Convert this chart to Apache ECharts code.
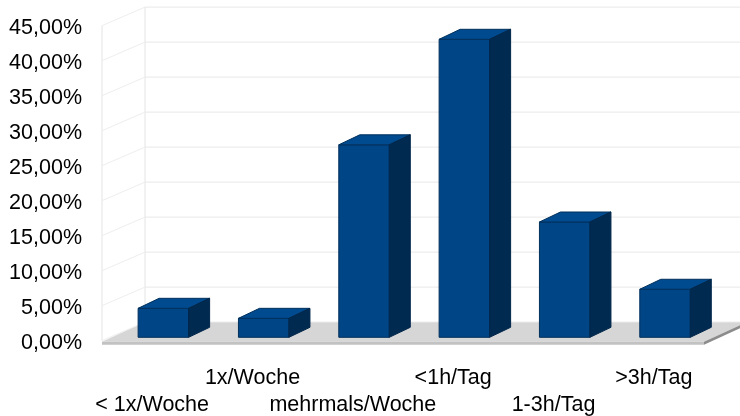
<!DOCTYPE html>
<html>
<head>
<meta charset="utf-8">
<script src="https://cdn.jsdelivr.net/npm/echarts@6/dist/echarts.min.js"></script>
<style>
  html, body { margin: 0; padding: 0; background: #fff; }
  #chart { width: 740px; height: 416px; }
</style>
</head>
<body>
<div id="chart"></div>
<script>
const categories = ['< 1x/Woche', '1x/Woche', 'mehrmals/Woche', '<1h/Tag', '1-3h/Tag', '>3h/Tag'];
const shares = [4.14, 2.71, 27.5, 42.57, 16.47, 6.86];
const gridTicks = [0, 5, 10, 15, 20, 25, 30, 35, 40, 45];

// fake 3D: how far the back wall sits from the front plane, in px
const DEPTH_X = 43;
const DEPTH_Y = 18.6;
const BAR_DX = 21;
const BAR_DY = 10;
const BAR_SHIFT_X = 11.2;
const BAR_SHIFT_Y = 3.4;
const BAR_WIDTH = 50.5;

const chart = echarts.init(document.getElementById('chart'), null, { renderer: 'canvas' });

function poly(points, fill, stroke) {
    return {
        type: 'polygon',
        shape: { points: points },
        style: { fill: fill, stroke: stroke || null, lineWidth: stroke ? 1 : 0 }
    };
}

function line(x1, y1, x2, y2, color) {
    return {
        type: 'line',
        shape: { x1: x1, y1: y1, x2: x2, y2: y2 },
        style: { stroke: color, lineWidth: 1 }
    };
}

// floor and wall lines, one item per tick, drawn behind the bars
function renderWalls(params, api) {
    const box = params.coordSys;
    const left = box.x, right = box.x + box.width;
    const y = api.coord([0, api.value(0)])[1];
    const children = [
        line(left, y, left + DEPTH_X, y - DEPTH_Y, '#eeeeee'),
        line(left + DEPTH_X, y - DEPTH_Y, right + DEPTH_X, y - DEPTH_Y, '#e8e8e8')
    ];
    if (params.dataIndex === 0) {
        const top = box.y;
        children.unshift(
            line(left, top, left, y, '#e4e4e4'),
            line(left + DEPTH_X, top - DEPTH_Y, left + DEPTH_X, y - DEPTH_Y, '#e4e4e4'),
            poly([[left, y + 1], [left + DEPTH_X, y - DEPTH_Y], [right + DEPTH_X, y - DEPTH_Y], [right, y + 1]], '#d6d6d6'),
            poly([[left, y + 1], [right, y + 1], [right, y + 4], [left, y + 4]], '#c2c2c2'),
            poly([[right, y + 4], [right + DEPTH_X, y - DEPTH_Y + 3], [right + DEPTH_X, y - DEPTH_Y], [right, y + 1]], '#8c8c8c')
        );
    }
    return { type: 'group', children: children };
}

function renderBar(params, api) {
    const base = api.coord([api.value(0), 0]);
    const tip = api.coord([api.value(0), api.value(1)]);
    const x0 = base[0] + BAR_SHIFT_X - BAR_WIDTH / 2;
    const x1 = x0 + BAR_WIDTH;
    const bottom = base[1] - BAR_SHIFT_Y;
    const top = tip[1] - BAR_SHIFT_Y;
    return {
        type: 'group',
        children: [
            poly([[x0, bottom], [x1, bottom], [x1, top], [x0, top]], '#004586', '#00305c'),
            poly([[x0, top], [x1, top], [x1 + BAR_DX, top - BAR_DY], [x0 + BAR_DX, top - BAR_DY]], '#004a8f', '#00305c'),
            poly([[x1, bottom], [x1 + BAR_DX, bottom - BAR_DY], [x1 + BAR_DX, top - BAR_DY], [x1, top]], '#002a50', '#00264a')
        ]
    };
}

chart.setOption({
    animation: false,
    backgroundColor: '#fff',
    grid: { left: 102, right: 36, top: 25.7, bottom: 75.3, outerBoundsMode: 'none' },
    textStyle: { fontFamily: 'Liberation Sans' },
    xAxis: {
        type: 'category',
        data: categories,
        axisLine: { show: false },
        axisTick: { show: false },
        axisLabel: {
            interval: 0,
            margin: 23.5,
            color: '#000',
            fontSize: 21.5,
            lineHeight: 27,
            // every other label drops to a second row
            formatter: (value, index) => (index % 2 === 0 ? '\n' + value : value + '\n')
        }
    },
    yAxis: {
        type: 'value',
        min: 0,
        max: 45,
        interval: 5,
        axisLine: { show: false },
        axisTick: { show: false },
        splitLine: { show: false },
        axisLabel: {
            margin: 20,
            color: '#000',
            fontSize: 21.5,
            verticalAlign: 'top',
            lineHeight: 5,
            formatter: value => value.toFixed(2).replace('.', ',') + '%'
        }
    },
    series: [
        {
            type: 'custom',
            coordinateSystem: 'cartesian2d',
            renderItem: renderWalls,
            clip: false,
            silent: true,
            encode: { x: 1, y: 0 },
            data: gridTicks.map(t => [t, 0]),
            z: 1
        },
        {
            type: 'custom',
            coordinateSystem: 'cartesian2d',
            renderItem: renderBar,
            clip: false,
            encode: { x: 0, y: 1 },
            data: shares.map((v, i) => [i, v]),
            z: 2
        }
    ]
});
</script>
</body>
</html>
